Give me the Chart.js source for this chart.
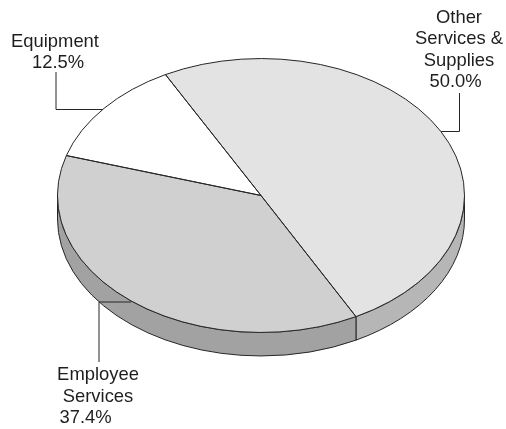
<!DOCTYPE html>
<html>
<head>
<meta charset="utf-8">
<style>
  html, body { margin: 0; padding: 0; background: #fff; }
  canvas { display: block; }
</style>
<script src="https://cdn.jsdelivr.net/npm/chart.js@4"></script>
</head>
<body>
<canvas id="pie" width="506" height="429"></canvas>
<script>
// Budget shares, clockwise from the slice edge at the upper left.
const categories = ['Other Services & Supplies', 'Employee Services', 'Equipment'];
const shares = [50.0, 37.4, 12.5];
const topColors = ['#e3e3e3', '#d0d0d0', '#ffffff'];
const sideColors = ['#b6b6b6', '#a2a2a2', '#8c8c8c'];

// Tilted-disc geometry.
const CENTER_X = 261, CENTER_Y = 195.5, RADIUS = 203.5, TILT = 0.673, DEPTH = 23.5;
const LINE = '#262626';

// Callouts: wrapped label lines plus a leader running to the pie edge.
const callouts = [
  { index: 0, lines: ['Other', 'Services &', 'Supplies'], x: 459, y: 22.7, valueX: 455.5,
    leader: [[459.5, 93], [459.5, 131.5], [441, 131.5]] },
  { index: 1, lines: ['Employee', 'Services'], x: 98, y: 380, valueX: 85.5,
    leader: [[99, 362], [99, 302], [131, 302]] },
  { index: 2, lines: ['Equipment'], x: 55, y: 46.5, valueX: 58,
    leader: [[56, 72], [56, 109.5], [103, 109.5]] }
];

// Maps the library's round pie onto the tilted ellipse while its arcs are filled.
function applyTilt(ctx, arc) {
  ctx.translate(CENTER_X, CENTER_Y);
  ctx.scale(1, TILT);
  ctx.translate(-arc.x, -arc.y);
}

const tiltedPie = {
  id: 'tiltedPie',
  beforeDatasetsDraw(chart) {
    const ctx = chart.ctx;
    const arcs = chart.getDatasetMeta(0).data;
    // Side wall: only the part of each slice facing the viewer.
    arcs.forEach((arc, i) => {
      const from = Math.max(arc.startAngle, 0);
      const to = Math.min(arc.endAngle, Math.PI);
      if (to <= from) return;
      ctx.save();
      ctx.beginPath();
      ctx.ellipse(CENTER_X, CENTER_Y, RADIUS, RADIUS * TILT, 0, from, to);
      ctx.ellipse(CENTER_X, CENTER_Y + DEPTH, RADIUS, RADIUS * TILT, 0, to, from, true);
      ctx.closePath();
      ctx.fillStyle = sideColors[i];
      ctx.fill();
      ctx.strokeStyle = LINE;
      ctx.lineWidth = 1;
      ctx.stroke();
      ctx.restore();
    });
    ctx.save();
    applyTilt(ctx, arcs[0]);
  },
  afterDatasetsDraw(chart) {
    const ctx = chart.ctx;
    ctx.restore();
    const arcs = chart.getDatasetMeta(0).data;
    // Slice outlines, stroked untransformed so the pen stays even.
    ctx.save();
    ctx.strokeStyle = LINE;
    ctx.lineWidth = 1;
    ctx.lineJoin = 'round';
    arcs.forEach((arc) => {
      ctx.beginPath();
      ctx.moveTo(CENTER_X, CENTER_Y);
      ctx.ellipse(CENTER_X, CENTER_Y, RADIUS, RADIUS * TILT, 0, arc.startAngle, arc.endAngle);
      ctx.closePath();
      ctx.stroke();
    });
    // Labels and leaders.
    ctx.fillStyle = '#1e1e1e';
    ctx.font = '18.4px "Liberation Sans", Arial, sans-serif';
    ctx.textAlign = 'center';
    ctx.textBaseline = 'alphabetic';
    callouts.forEach((c) => {
      c.lines.forEach((text, n) => ctx.fillText(text, c.x, c.y + n * 21.5));
      ctx.fillText(shares[c.index].toFixed(1) + '%', c.valueX, c.y + c.lines.length * 21.5);
      ctx.beginPath();
      c.leader.forEach(([x, y], n) => (n ? ctx.lineTo(x, y) : ctx.moveTo(x, y)));
      ctx.stroke();
    });
    ctx.restore();
  }
};

new Chart(document.getElementById('pie'), {
  type: 'pie',
  data: {
    labels: categories,
    datasets: [{
      data: shares,
      backgroundColor: topColors,
      borderWidth: 0,
      clip: false
    }]
  },
  options: {
    responsive: false,
    animation: false,
    rotation: -28,
    layout: { padding: { left: 57.5, right: 41.5, top: 11, bottom: 11 } },
    plugins: { legend: { display: false }, tooltip: { enabled: false } }
  },
  plugins: [tiltedPie]
});
</script>
</body>
</html>
